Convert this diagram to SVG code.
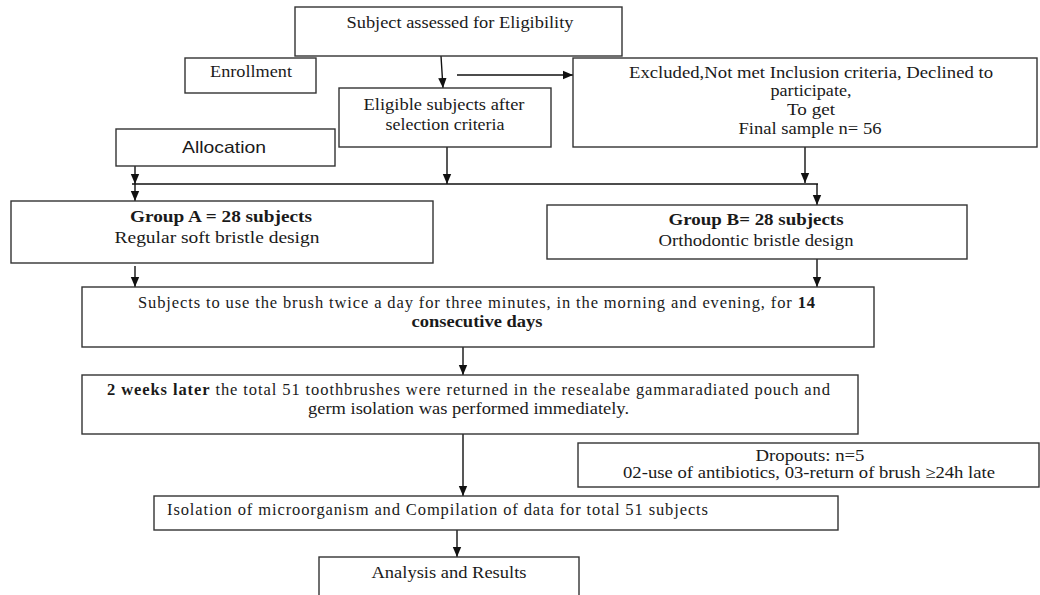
<svg xmlns="http://www.w3.org/2000/svg" width="1040" height="595" viewBox="0 0 1040 595">
<defs>
<marker id="ah" markerUnits="userSpaceOnUse" markerWidth="10" markerHeight="10" viewBox="0 0 10 10" refX="10" refY="5" orient="auto">
<path d="M0,0.8 L10,5 L0,9.2 Z" fill="#111"/>
</marker>
<style>
.box{fill:#fff;stroke:#333;stroke-width:1.4}
.t{font-family:"Liberation Serif","Times New Roman",serif;font-size:16.5px;fill:#1a1a1a}
.s{font-family:"Liberation Sans",Arial,sans-serif;font-size:16.5px;fill:#1a1a1a}
.m{text-anchor:middle}
.b{font-weight:bold}
.c{stroke:#111;stroke-width:1.4;fill:none}
.a{marker-end:url(#ah)}
</style>
</defs>
<rect width="1040" height="595" fill="#fff"/>
<g id="connectors">
<line class="c a" x1="441" y1="56" x2="443" y2="88"/>
<line class="c a" x1="457" y1="75" x2="573" y2="75"/>
<line class="c a" x1="447" y1="147" x2="447" y2="184"/>
<line class="c a" x1="805" y1="147" x2="805" y2="183"/>
<line class="c" x1="132" y1="184" x2="818" y2="184"/>
<line class="c a" x1="817" y1="184" x2="817" y2="205"/>
<line class="c a" x1="135" y1="162" x2="135" y2="184"/>
<line class="c a" x1="135" y1="184" x2="135" y2="201"/>
<line class="c a" x1="135" y1="266" x2="135" y2="287"/>
<line class="c a" x1="817" y1="259" x2="817" y2="287"/>
<line class="c a" x1="463" y1="347" x2="463" y2="375"/>
<line class="c a" x1="463" y1="434" x2="463" y2="496"/>
<line class="c a" x1="457" y1="530" x2="457" y2="557"/>
</g>
<g id="assessed">
<rect class="box" x="295" y="7" width="327" height="49"/>
<text class="t m" x="460" y="28" textLength="227" lengthAdjust="spacingAndGlyphs">Subject assessed for Eligibility</text>
</g>
<g id="enrollment">
<rect class="box" x="185" y="58" width="131" height="35"/>
<text class="t m" x="251" y="77" textLength="82" lengthAdjust="spacingAndGlyphs">Enrollment</text>
</g>
<g id="eligible">
<rect class="box" x="339" y="88" width="212" height="59"/>
<text class="t m" x="444" y="110" textLength="161" lengthAdjust="spacingAndGlyphs">Eligible subjects after</text>
<text class="t m" x="445" y="130" textLength="119" lengthAdjust="spacingAndGlyphs">selection criteria</text>
</g>
<g id="allocation">
<rect class="box" x="116" y="129" width="219" height="37"/>
<text class="s m" x="224" y="153" textLength="84" lengthAdjust="spacingAndGlyphs">Allocation</text>
</g>
<g id="excluded">
<rect class="box" x="573" y="58" width="464" height="89"/>
<text class="t m" x="811" y="78" textLength="364" lengthAdjust="spacingAndGlyphs">Excluded,Not met Inclusion criteria,  Declined to</text>
<text class="t m" x="811" y="96" textLength="81" lengthAdjust="spacingAndGlyphs">participate,</text>
<text class="t m" x="811" y="115" textLength="48" lengthAdjust="spacingAndGlyphs">To get</text>
<text class="t m" x="810" y="134" textLength="143" lengthAdjust="spacingAndGlyphs">Final sample n= 56</text>
</g>
<g id="groupA">
<rect class="box" x="11" y="201" width="422" height="62"/>
<text class="t m b" x="221" y="222" textLength="182" lengthAdjust="spacingAndGlyphs">Group A = 28 subjects</text>
<text class="t m" x="217" y="243" textLength="205" lengthAdjust="spacingAndGlyphs">Regular soft bristle design</text>
</g>
<g id="groupB">
<rect class="box" x="547" y="205" width="420" height="54"/>
<text class="t m b" x="756" y="225" textLength="175" lengthAdjust="spacingAndGlyphs">Group B= 28 subjects</text>
<text class="t m" x="756" y="246" textLength="195" lengthAdjust="spacingAndGlyphs">Orthodontic bristle design</text>
</g>
<g id="usage">
<rect class="box" x="82" y="287" width="792" height="60"/>
<text class="t" x="138" y="308" textLength="677" lengthAdjust="spacing">Subjects to use the brush twice a day for three minutes, in the morning and evening, for <tspan class="b">14</tspan></text>
<text class="t m b" x="477" y="327" textLength="131" lengthAdjust="spacingAndGlyphs">consecutive days</text>
</g>
<g id="returned">
<rect class="box" x="82" y="375" width="776" height="59"/>
<text class="t" x="107" y="395" textLength="723" lengthAdjust="spacing"><tspan class="b">2 weeks later</tspan> the total  51 toothbrushes were returned  in  the resealabe  gammaradiated  pouch and</text>
<text class="t" x="308" y="414" textLength="321" lengthAdjust="spacingAndGlyphs">germ isolation was performed immediately.</text>
</g>
<g id="dropouts">
<rect class="box" x="578" y="443" width="461" height="44"/>
<text class="t m" x="810" y="461" textLength="109" lengthAdjust="spacingAndGlyphs">Dropouts: n=5</text>
<text class="t m" x="809" y="478" textLength="372" lengthAdjust="spacingAndGlyphs">02-use of antibiotics, 03-return of brush ≥24h late</text>
</g>
<g id="isolation">
<rect class="box" x="154" y="496" width="684" height="34"/>
<text class="t" x="167" y="515" textLength="541" lengthAdjust="spacing">Isolation of microorganism  and Compilation  of data for total 51 subjects</text>
</g>
<g id="analysis">
<rect class="box" x="319" y="557" width="260" height="50"/>
<text class="t m" x="449" y="578" textLength="155" lengthAdjust="spacingAndGlyphs">Analysis and Results</text>
</g>
</svg>
